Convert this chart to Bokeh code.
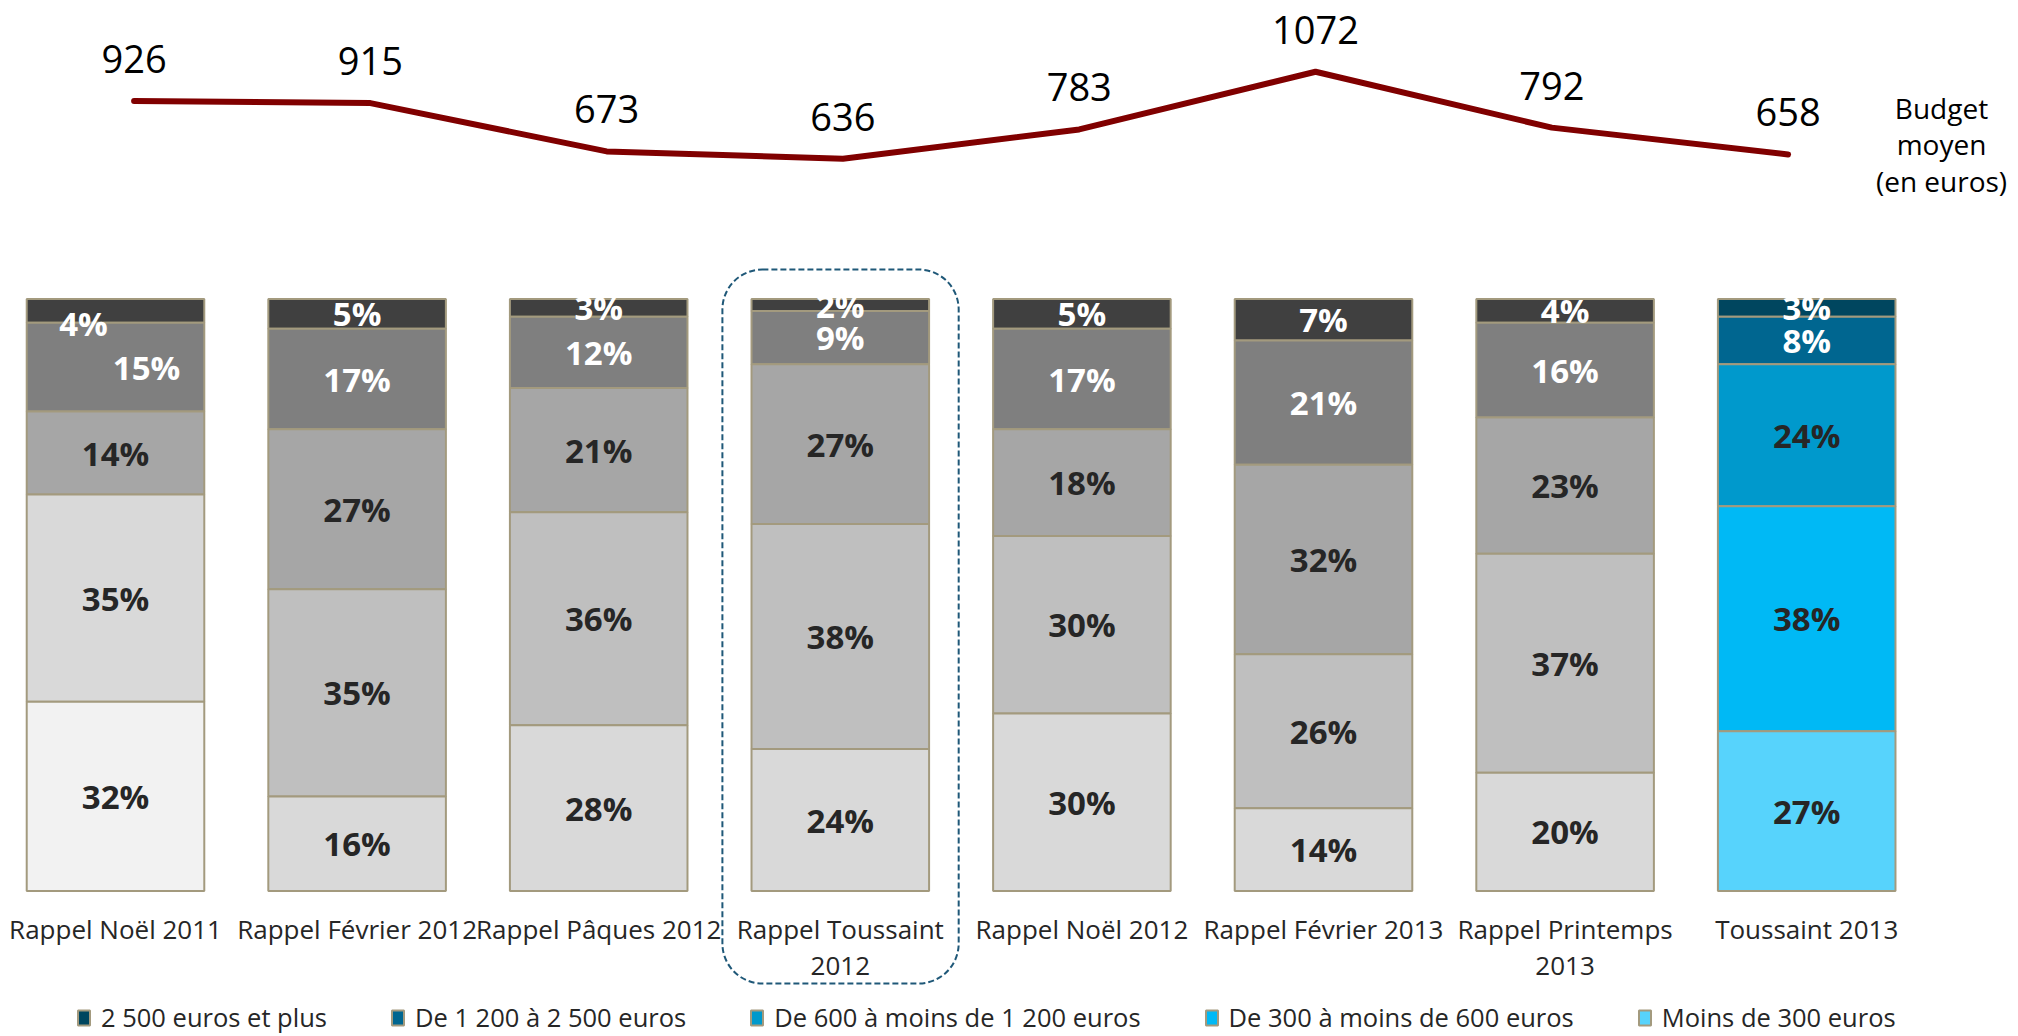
from bokeh.plotting import figure
from bokeh.models import ColumnDataSource, Range1d, Legend, LegendItem, BoxAnnotation, Label
from bokeh.core.properties import value
from bokeh.embed import file_html
from bokeh.resources import INLINE

# ---------------- data ----------------
categories = ["Rappel Noël 2011", "Rappel Février 2012", "Rappel Pâques 2012",
              "Rappel Toussaint\n2012", "Rappel Noël 2012", "Rappel Février 2013",
              "Rappel Printemps\n2013", "Toussaint 2013"]
series = ["2 500 euros et plus", "De 1 200 à 2 500 euros", "De 600 à moins de 1 200 euros",
          "De 300 à moins de 600 euros", "Moins de 300 euros"]
pct_2500_plus = [4, 5, 3, 2, 5, 7, 4, 3]
pct_1200_2500 = [15, 17, 12, 9, 17, 21, 16, 8]
pct_600_1200 = [14, 27, 21, 27, 18, 32, 23, 24]
pct_300_600 = [35, 35, 36, 38, 30, 26, 37, 38]
pct_moins_300 = [32, 16, 28, 24, 30, 14, 20, 27]
budget_moyen = [926, 915, 673, 636, 783, 1072, 792, 658]
budget_title = "Budget\nmoyen\n(en euros)"
highlight_index = 3

# ---------------- styles ----------------
grey_palette = ["#404040", "#7F7F7F", "#A6A6A6", "#BFBFBF", "#D9D9D9"]
first_palette = ["#404040", "#7F7F7F", "#A6A6A6", "#D9D9D9", "#F2F2F2"]
blue_palette = ["#00465F", "#006690", "#0099CC", "#00B9F5", "#57D3FC"]
label_colors = ["white", "white", "#262626", "#262626", "#262626"]
BORDER = "#A39A7E"
FONT = "Open Sans"

# label nudges (bar, series) -> (dx px, dy px)
nudges = {(0, 0): (-32, 13), (0, 1): (31, 0)}

# ---------------- layout (px) ----------------
W, H = 2016, 1034
X0, DX = 115.0, 241.6          # canvas x of first bar centre, spacing
Y100, Y0 = 298.6, 890.6        # canvas y of 100% and 0%
BUD0, BUDK = 285.3, 0.1997     # canvas y of budget 0, px per euro
ppu = (Y0 - Y100) / 100.0

x_range = Range1d(-X0 / DX, (W - X0) / DX)
y_range = Range1d(-(H - Y0) / ppu, 100 + Y100 / ppu)

p = figure(width=W, height=H, x_range=x_range, y_range=y_range,
           output_backend="svg", toolbar_location=None, min_border=0,
           x_axis_location=None, y_axis_location=None, outline_line_color=None,
           background_fill_color="white", border_fill_color="white")
p.grid.visible = False
p.extra_y_ranges = {"budget": Range1d(-(H - BUD0) / BUDK, BUD0 / BUDK)}

n = len(categories)
xs = list(range(n))
stack_top_to_bottom = [pct_2500_plus, pct_1200_2500, pct_600_1200, pct_300_600, pct_moins_300]

# bottoms: stack from bottom (last series) upward
bottoms = [[0.0] * n for _ in range(5)]
run = [0.0] * n
for k in range(4, -1, -1):
    vals = stack_top_to_bottom[k]
    for i in range(n):
        bottoms[k][i] = run[i]
        run[i] += vals[i]

renderers = []
for k in range(5):
    vals = stack_top_to_bottom[k]
    cols = []
    for i in range(n):
        if i == n - 1:
            cols.append(blue_palette[k])
        elif i == 0:
            cols.append(first_palette[k])
        else:
            cols.append(grey_palette[k])
    src = ColumnDataSource(dict(
        x=xs,
        bottom=bottoms[k],
        top=[bottoms[k][i] + vals[i] for i in range(n)],
        color=cols,
        lbl=[f"{v}%" for v in vals],
        ly=[bottoms[k][i] + vals[i] / 2 for i in range(n)],
        dx=[nudges.get((i, k), (0, 0))[0] for i in range(n)],
        dy=[nudges.get((i, k), (0, 0))[1] for i in range(n)],
    ))
    r = p.vbar(x="x", width=0.735, bottom="bottom", top="top", fill_color="color",
               line_color=BORDER, line_width=2, source=src)
    renderers.append((k, r, src))

for k, r, src in renderers:
    p.text(x="x", y="ly", text="lbl", x_offset="dx", y_offset="dy", source=src,
           text_color=label_colors[k], text_font=value(FONT), text_font_style="bold",
           text_font_size="33px", text_align="center", text_baseline="middle")

# category labels (two lines)
line1 = [c.split("\n")[0] for c in categories]
line2 = [c.split("\n")[1] if "\n" in c else "" for c in categories]
p.text(x=xs, y=[0] * n, text=line1, y_offset=38, text_color="#262626",
       text_font=value(FONT), text_font_size="26px", text_align="center",
       text_baseline="alphabetic")
p.text(x=xs, y=[0] * n, text=line2, y_offset=75, text_color="#262626",
       text_font=value(FONT), text_font_size="26px", text_align="center",
       text_baseline="alphabetic")

# budget line
xl = [3.5 + (i - 3.5) * 0.978 for i in xs]
p.line(x=xl, y=budget_moyen, y_range_name="budget", line_color="#800000",
       line_width=6, line_cap="round", line_join="round")
p.text(x=xl, y=budget_moyen, text=[str(v) for v in budget_moyen], y_range_name="budget",
       y_offset=-42, text_color="black", text_font=value(FONT), text_font_size="38px",
       text_align="center", text_baseline="middle")

p.add_layout(Label(x=1941, y=H - 144, x_units="screen", y_units="screen",
                   text=budget_title, text_align="center", text_baseline="middle",
                   text_font=FONT, text_font_size="28px", text_color="black",
                   text_line_height=0.95))

# highlighted column
p.add_layout(BoxAnnotation(left=highlight_index - 0.488, right=highlight_index + 0.49,
                           top=105.0, bottom=-15.6, fill_alpha=0, line_alpha=1,
                           line_color="#1F5878", line_dash="6 3", line_width=2,
                           border_radius=40))

# legend
items = [LegendItem(label=series[k], renderers=[r], index=n - 1) for k, r, _ in renderers]
legend = Legend(items=items, orientation="horizontal", location=(76, 0), padding=0,
                margin=0, spacing=63, glyph_width=15, glyph_height=19, label_standoff=10,
                label_text_font=FONT, label_text_font_size="25.5px",
                label_text_color="#262626", border_line_alpha=0, background_fill_alpha=0)
p.add_layout(legend)

open("out.html", "w").write(file_html(p, INLINE))
